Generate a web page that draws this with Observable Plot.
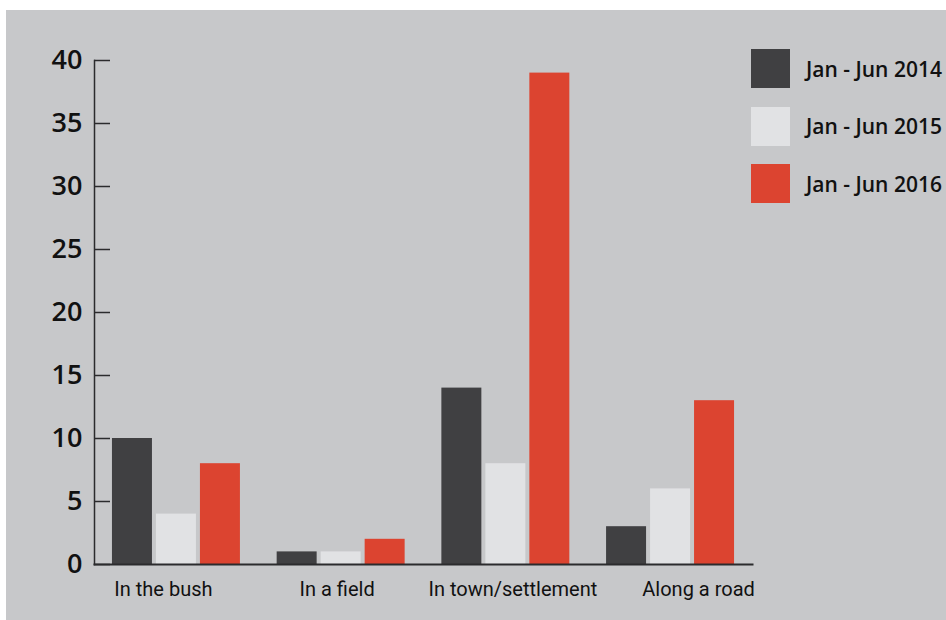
<!DOCTYPE html>
<html><head><meta charset="utf-8">
<script src="https://cdn.jsdelivr.net/npm/d3@7"></script>
<script src="https://cdn.jsdelivr.net/npm/@observablehq/plot@0.6"></script>
<style>
body{margin:0;background:#fff;}
#wrap{position:relative;width:946px;height:620px;overflow:hidden;}
#bg{position:absolute;left:6px;top:10px;width:940px;height:610px;background:#c7c8ca;}
#chart{position:absolute;left:0;top:0;}
#legend{position:absolute;left:751px;top:49px;font-family:"Open Sans",sans-serif;font-weight:600;font-size:21px;color:#111;}
.item{display:flex;align-items:center;height:39px;margin-bottom:18.5px;white-space:nowrap;}
.sw{width:39px;height:39px;margin-right:16px;flex:none;}
</style></head>
<body><div id="wrap"><div id="bg"></div><div id="chart"></div><div id="legend"></div></div>
<script>
const groups = ["In the bush", "In a field", "In town/settlement", "Along a road"];
const series = ["Jan-Jun 2014", "Jan-Jun 2015", "Jan-Jun 2016"];
const legendLabels = ["Jan - Jun 2014", "Jan - Jun 2015", "Jan - Jun 2016"];
const v2014 = [10, 1, 14, 3];
const v2015 = [4, 1, 8, 6];
const v2016 = [8, 2, 39, 13];
const yTicks = [0, 5, 10, 15, 20, 25, 30, 35, 40];
const colors = ["#404042", "#e1e2e4", "#dc4430"];

const values = [v2014, v2015, v2016];
const data = groups.flatMap((g, i) => series.map((s, j) => ({group: g, series: s, value: values[j][i]})));

// layout / style constants
const W = 946, mL = 94, mR = 194, pIn = 0.223, pOut = 0.109;
const step = (W - mL - mR) / (groups.length - pIn + 2 * pOut);
const off = pOut * step; // distance from frame left to first facet
const labelNudge = [-13, -4, 7, 28];

const plot = Plot.plot({
  width: W, height: 620,
  marginLeft: mL, marginRight: mR, marginTop: 60, marginBottom: 56,
  style: {background: "transparent", overflow: "visible"},
  fx: {domain: groups, paddingInner: pIn, paddingOuter: pOut, round: false, axis: null},
  x: {domain: series, paddingInner: 4 / 44, paddingOuter: 0, round: false, axis: null},
  y: {domain: [0, 40], axis: null},
  color: {domain: series, range: colors},
  marks: [
    Plot.barY(data, {fx: "group", x: "series", y: "value", fill: "series"}),
    Plot.frame({facet: "super", anchor: "left", insetLeft: -off, insetRight: -off, stroke: "#2b2b2d", strokeWidth: 1.5}),
    Plot.frame({facet: "super", anchor: "bottom", insetLeft: -off, insetRight: -off, stroke: "#2b2b2d", strokeWidth: 2}),
    Plot.axisY(yTicks, {anchor: "left", label: null, tickSize: 16, dx: 16 - off, text: null, stroke: "#2b2b2d", strokeWidth: 1.5}),
    Plot.axisY(yTicks, {anchor: "left", label: null, tickSize: 0, tickPadding: 12, dx: -off, fontSize: 27, fontWeight: 600, fontFamily: "Open Sans", fill: "#111"}),
    ...groups.map((g, i) => Plot.text([g], {fx: d => d, text: d => d, frameAnchor: "bottom", lineAnchor: "middle", dy: 25, dx: labelNudge[i], fontSize: 20, fontFamily: "Roboto", fill: "#111"}))
  ]
});
document.getElementById("chart").appendChild(plot);

const legend = d3.select("#legend");
series.forEach((s, i) => {
  const item = legend.append("div").attr("class", "item");
  item.append("div").attr("class", "sw").style("background", colors[i]);
  item.append("span").text(legendLabels[i]);
});
</script>
</body></html>
